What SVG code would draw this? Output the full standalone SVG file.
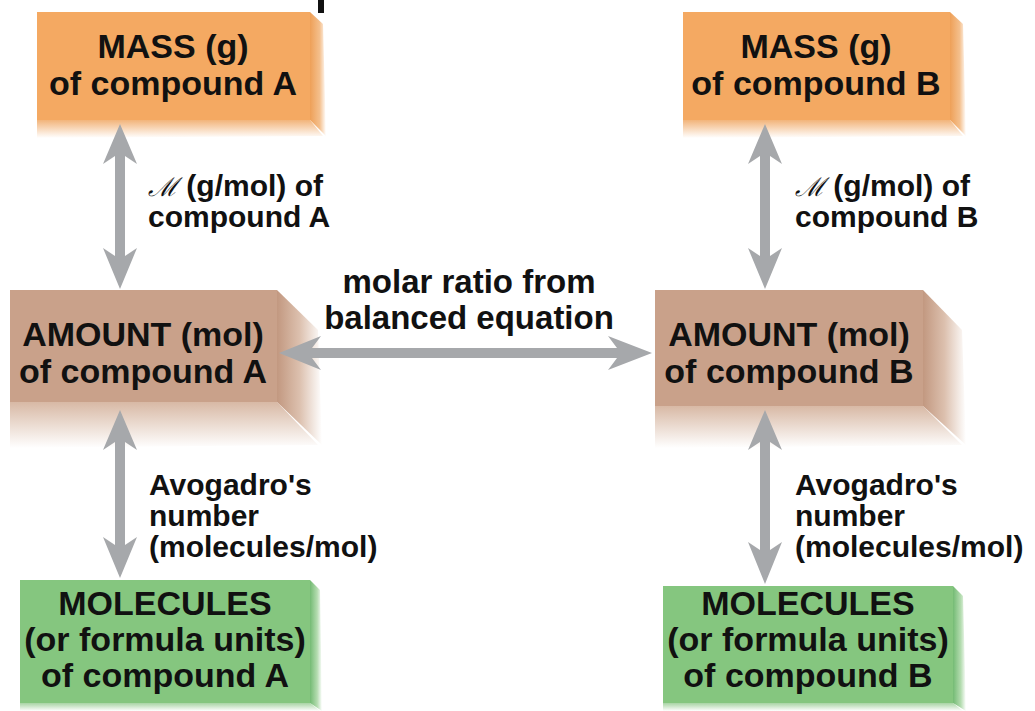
<svg xmlns="http://www.w3.org/2000/svg" width="1035" height="711" viewBox="0 0 1035 711">
<defs>
<linearGradient id="oR" x1="0" y1="0" x2="1" y2="0"><stop offset="0" stop-color="#eea058"/><stop offset="0.6" stop-color="#f4bf8c"/><stop offset="1" stop-color="#ffffff"/></linearGradient>
<linearGradient id="oB" x1="0" y1="0" x2="0" y2="1"><stop offset="0" stop-color="#f2b47a"/><stop offset="1" stop-color="#ffffff"/></linearGradient>
<linearGradient id="bR" x1="0" y1="0" x2="1" y2="0"><stop offset="0" stop-color="#c29880"/><stop offset="0.5" stop-color="#dcc0ae"/><stop offset="1" stop-color="#ffffff"/></linearGradient>
<linearGradient id="bB" x1="0" y1="0" x2="0" y2="1"><stop offset="0" stop-color="#d8b9a5"/><stop offset="1" stop-color="#ffffff"/></linearGradient>
<linearGradient id="gR" x1="0" y1="0" x2="1" y2="0"><stop offset="0" stop-color="#74bb74"/><stop offset="0.6" stop-color="#b4dcb0"/><stop offset="1" stop-color="#ffffff"/></linearGradient>
<linearGradient id="gB" x1="0" y1="0" x2="0" y2="1"><stop offset="0" stop-color="#a8d4a4"/><stop offset="1" stop-color="#ffffff"/></linearGradient>
</defs>
<style>
.t{font-family:"Liberation Sans",Arial,Helvetica,sans-serif;font-weight:bold;fill:#111;}
.bx{font-size:34px;text-anchor:middle;}
.lb{font-size:30px;}
.rt{font-size:33px;text-anchor:middle;}
.scr{font-family:"DejaVu Serif","Liberation Serif",serif;font-style:italic;font-weight:normal;font-size:26px;}
.or{fill:#f4a962;}
.br{fill:#c9a18a;}
.gr{fill:#85c67f;}
.arr{fill:#a6a8ab;}
</style>
<rect width="1035" height="711" fill="#ffffff"/>
<rect x="318" y="0" width="6" height="13" fill="#111"/>

<g id="mass-a">
<polygon fill="url(#oB)" points="37,120 310,120 323,136 37,138"/>
<polygon fill="url(#oR)" points="310,12 323,24 326,136 310,120"/>
<rect class="or" x="37" y="12" width="273" height="108"/>
<text class="t bx" x="173" y="58">MASS (g)</text>
<text class="t bx" x="173" y="95">of compound A</text>
</g>

<g id="mass-b">
<polygon fill="url(#oB)" points="683,120 950,120 963,136 683,138"/>
<polygon fill="url(#oR)" points="950,12 963,24 966,136 950,120"/>
<rect class="or" x="683" y="12" width="267" height="108"/>
<text class="t bx" x="816" y="58">MASS (g)</text>
<text class="t bx" x="816" y="95">of compound B</text>
</g>

<g id="amount-a">
<polygon fill="url(#bB)" points="10,402 277,402 318,445 10,448"/>
<polygon fill="url(#bR)" points="277,290 318,330 322,445 277,402"/>
<rect class="br" x="10" y="290" width="267" height="112"/>
<text class="t bx" x="143" y="346">AMOUNT (mol)</text>
<text class="t bx" x="143" y="383">of compound A</text>
</g>

<g id="amount-b">
<polygon fill="url(#bB)" points="655,406 923,406 962,445 655,448"/>
<polygon fill="url(#bR)" points="923,290 962,330 966,445 923,406"/>
<rect class="br" x="655" y="290" width="268" height="116"/>
<text class="t bx" x="789" y="346">AMOUNT (mol)</text>
<text class="t bx" x="789" y="383">of compound B</text>
</g>

<g id="molecules-a">
<polygon fill="url(#gB)" points="20,703 310,703 320,711 20,711"/>
<polygon fill="url(#gR)" points="310,580 320,590 322,711 310,703"/>
<rect class="gr" x="20" y="580" width="290" height="123"/>
<text class="t bx" x="165" y="615">MOLECULES</text>
<text class="t bx" x="165" y="651">(or formula units)</text>
<text class="t bx" x="165" y="687">of compound A</text>
</g>

<g id="molecules-b">
<polygon fill="url(#gB)" points="663,703 953,703 963,711 663,711"/>
<polygon fill="url(#gR)" points="953,586 963,596 966,711 953,703"/>
<rect class="gr" x="663" y="586" width="290" height="117"/>
<text class="t bx" x="808" y="615">MOLECULES</text>
<text class="t bx" x="808" y="651">(or formula units)</text>
<text class="t bx" x="808" y="687">of compound B</text>
</g>

<g id="connectors">
<polygon class="arr" points="120,124 137,164 125,156 125,256 137,248 120,289 103,248 115,256 115,156 103,164"/>
<polygon class="arr" points="765,124 782,164 770,156 770,256 782,248 765,289 748,248 760,256 760,156 748,164"/>
<polygon class="arr" points="120,410 137,450 125,442 125,545 137,537 120,578 103,537 115,545 115,442 103,450"/>
<polygon class="arr" points="765,410 782,450 770,442 770,550 782,542 765,584 748,542 760,550 760,442 748,450"/>
<polygon class="arr" points="279,353 321,336 312,348 617,348 608,336 652,353 608,370 617,358 312,358 321,370"/>
</g>

<g id="label-molar-mass-a">
<text class="t lb" x="148" y="196"><tspan class="scr">ℳ</tspan> (g/mol) of</text>
<text class="t lb" x="148" y="227">compound A</text>
</g>
<g id="label-molar-mass-b">
<text class="t lb" x="795" y="196"><tspan class="scr">ℳ</tspan> (g/mol) of</text>
<text class="t lb" x="795" y="227">compound B</text>
</g>
<g id="label-ratio">
<text class="t rt" x="469" y="293">molar ratio from</text>
<text class="t rt" x="469" y="329">balanced equation</text>
</g>
<g id="label-avogadro-a">
<text class="t lb" x="149" y="495">Avogadro's</text>
<text class="t lb" x="149" y="526">number</text>
<text class="t lb" x="149" y="557">(molecules/mol)</text>
</g>
<g id="label-avogadro-b">
<text class="t lb" x="795" y="495">Avogadro's</text>
<text class="t lb" x="795" y="526">number</text>
<text class="t lb" x="795" y="557">(molecules/mol)</text>
</g>
</svg>
